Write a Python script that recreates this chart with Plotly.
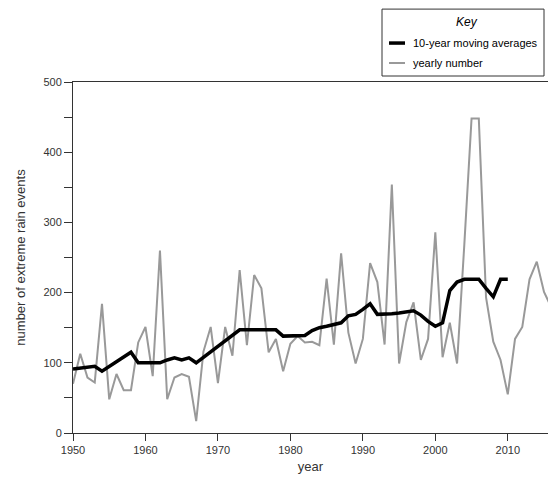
import plotly.graph_objects as go

years_yearly = list(range(1950, 2017))
yearly_number = [70, 113, 79, 72, 184, 48, 84, 61, 61, 129,
                 151, 81, 260, 48, 79, 84, 80, 17, 116, 151,
                 71, 151, 110, 232, 125, 225, 206, 115, 134, 88,
                 127, 138, 129, 130, 125, 220, 126, 256, 143, 99,
                 134, 242, 215, 126, 354, 99, 158, 186, 104, 134,
                 286, 108, 157, 99, 268, 448, 448, 193, 130, 104,
                 55, 134, 151, 219, 244, 201, 179]

years_avg = list(range(1950, 2011))
moving_avg = [91, 92, 93, 95, 88, 95, 102, 108, 115, 100,
              100, 100, 100, 104, 107, 104, 107, 100, 108, 116,
              124, 131, 139, 147, 147, 147, 147, 147, 147, 138,
              138, 138, 139, 146, 150, 152, 154, 157, 167, 169,
              176, 184, 169, 169, 170, 171, 172, 174, 168, 159,
              152, 157, 203, 215, 219, 219, 219, 206, 194, 219,
              219]

legend_labels = ["10-year moving averages", "yearly number"]
y_tickvals = list(range(0, 501, 50))
y_ticktext = [str(v) if v % 100 == 0 else "" for v in y_tickvals]
x_tickvals = list(range(1950, 2011, 10))

FONT = "Liberation Sans, Arial, sans-serif"
TXT = "#333333"
W, H = 548, 478
L, R, T, B = 73, 0, 82, 44.5
PW, PH = W - L - R, H - T - B


def px_x(px):
    return (px - L) / PW


def px_y(py):
    return (H - B - py) / PH


fig = go.Figure()
fig.add_trace(go.Scatter(
    x=years_yearly, y=yearly_number, mode="lines", name=legend_labels[1],
    line=dict(color="#999999", width=2), showlegend=False))
fig.add_trace(go.Scatter(
    x=years_avg, y=moving_avg, mode="lines", name=legend_labels[0],
    line=dict(color="#000000", width=3.5), showlegend=False))

# manual key box
shapes = [
    dict(type="rect", xref="paper", yref="paper",
         x0=px_x(382), x1=px_x(544), y0=px_y(76), y1=px_y(9),
         line=dict(color="#333333", width=1), fillcolor="white", layer="above"),
    dict(type="line", xref="paper", yref="paper",
         x0=px_x(389), x1=px_x(405), y0=px_y(43), y1=px_y(43),
         line=dict(color="#000000", width=3.5), layer="above"),
    dict(type="line", xref="paper", yref="paper",
         x0=px_x(389), x1=px_x(405), y0=px_y(63), y1=px_y(63),
         line=dict(color="#999999", width=2), layer="above"),
]
annotations = [
    dict(text="<i>Key</i>", xref="paper", yref="paper", x=px_x(467), y=px_y(22),
         showarrow=False, xanchor="center", yanchor="middle",
         font=dict(size=12, color="#000")),
    dict(text=legend_labels[0], xref="paper", yref="paper", x=px_x(411), y=px_y(43),
         showarrow=False, xanchor="left", yanchor="middle",
         font=dict(size=11, color="#000")),
    dict(text=legend_labels[1], xref="paper", yref="paper", x=px_x(411), y=px_y(63),
         showarrow=False, xanchor="left", yanchor="middle",
         font=dict(size=11, color="#000")),
]

fig.update_layout(
    width=W, height=H,
    margin=dict(l=L, r=R, t=T, b=B, autoexpand=False),
    paper_bgcolor="white", plot_bgcolor="white",
    font=dict(family=FONT, size=11, color=TXT),
    showlegend=False,
    shapes=shapes, annotations=annotations,
    xaxis=dict(
        range=[1950, 2015.55], tickvals=x_tickvals,
        showgrid=False, zeroline=False,
        showline=True, linecolor="#333333", linewidth=1, mirror=True,
        ticks="outside", ticklen=7, tickcolor="#333333",
        title=dict(text="year", standoff=6),
        automargin=False,
    ),
    yaxis=dict(
        range=[0, 500], tickvals=y_tickvals, ticktext=y_ticktext,
        showgrid=False, zeroline=False,
        showline=True, linecolor="#333333", linewidth=1,
        ticks="outside", ticklen=8, tickcolor="#333333",
        title=dict(text="number of extreme rain events", standoff=14),
        automargin=False,
    ),
)

fig.write_html("out.html", config={"displayModeBar": False},
               post_script="document.body.style.margin='0';document.body.style.overflow='hidden';")
